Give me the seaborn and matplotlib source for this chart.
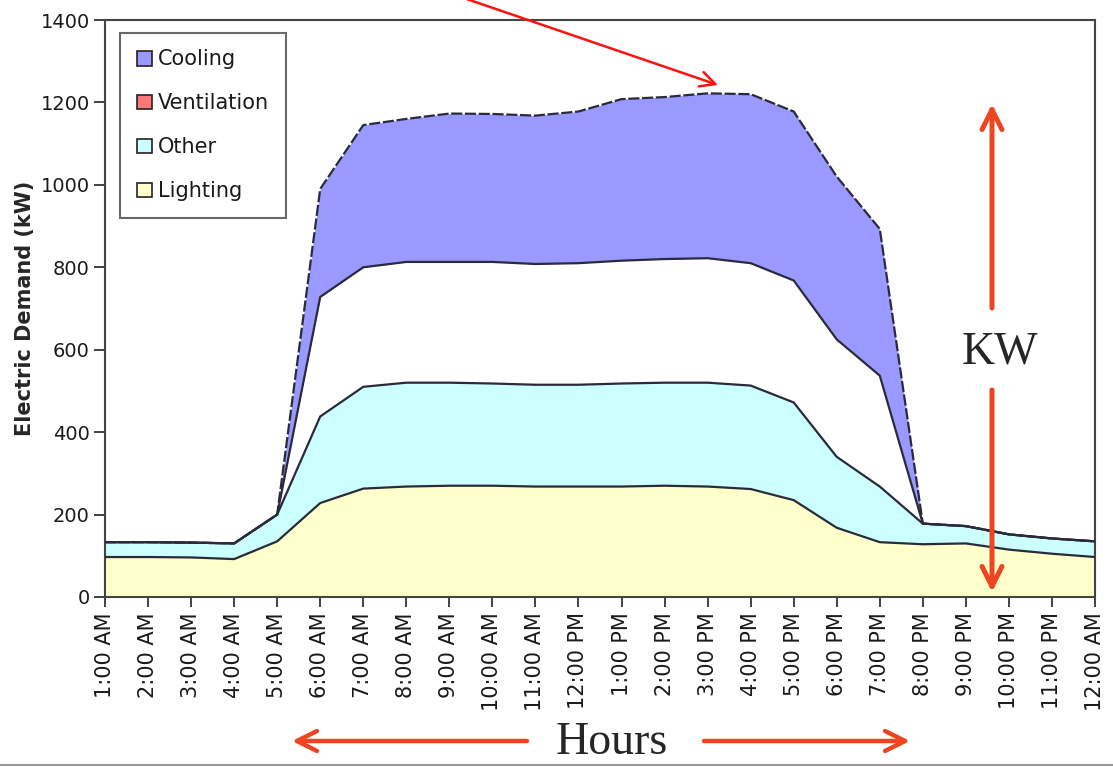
import matplotlib
matplotlib.use("Agg")
from matplotlib import pyplot as plt
from matplotlib.patches import Patch
import numpy as np
import pandas as pd
import seaborn as sns

hours = ["1:00 AM", "2:00 AM", "3:00 AM", "4:00 AM", "5:00 AM", "6:00 AM",
         "7:00 AM", "8:00 AM", "9:00 AM", "10:00 AM", "11:00 AM", "12:00 PM",
         "1:00 PM", "2:00 PM", "3:00 PM", "4:00 PM", "5:00 PM", "6:00 PM",
         "7:00 PM", "8:00 PM", "9:00 PM", "10:00 PM", "11:00 PM", "12:00 AM"]

# kW per end use, stacked bottom to top
lighting = [97, 97, 96, 92, 135, 228, 263, 268, 270, 270, 268, 268,
            268, 270, 268, 262, 235, 168, 133, 128, 130, 115, 105, 97]
other = [36, 36, 36, 38, 65, 210, 247, 252, 250, 248, 247, 247,
         250, 250, 252, 251, 237, 172, 135, 50, 42, 37, 37, 38]
ventilation = [0, 0, 0, 0, 0, 290, 290, 293, 293, 295, 293, 295,
               298, 300, 302, 297, 296, 285, 269, 0, 0, 0, 0, 0]
cooling = [0, 0, 0, 0, 0, 262, 345, 347, 360, 359, 360, 368,
           392, 393, 400, 410, 410, 395, 356, 0, 0, 0, 0, 0]

series = ["Lighting", "Other", "Ventilation", "Cooling"]
fill_colors = {"Lighting": "#FFFFCC", "Other": "#CCFFFF",
               "Ventilation": "#FFFFFF", "Cooling": "#9999FF"}
legend_colors = {"Lighting": "#FFFFCC", "Other": "#CCFFFF",
                 "Ventilation": "#FF7777", "Cooling": "#9999FF"}

df = pd.DataFrame({"Lighting": lighting, "Other": other,
                   "Ventilation": ventilation, "Cooling": cooling})
df["x"] = np.arange(len(hours))
tops = df[series].cumsum(axis=1)

sns.set_theme(style="white")
plt.rcParams["font.family"] = ["DejaVu Sans"]

fig = plt.figure(figsize=(11.13, 7.67), dpi=100)
ax = fig.add_axes([105 / 1113, 1 - 597 / 767, 990 / 1113, 577 / 767])

base = np.zeros(len(hours))
for s in series:
    top = tops[s].values
    ax.fill_between(df["x"], base, top, color=fill_colors[s], linewidth=0, zorder=1)
    base = top

line_df = tops.copy()
line_df["x"] = df["x"]
for s in ["Lighting", "Other", "Ventilation"]:
    sns.lineplot(data=line_df, x="x", y=s, ax=ax, color="#2a2a3a", linewidth=1.6, zorder=3)
sns.lineplot(data=line_df, x="x", y="Cooling", ax=ax, color="#2a2a3a", linewidth=1.6,
             linestyle=(0, (5, 1.2)), zorder=3)

ax.set_xlim(0, len(hours) - 1)
ax.set_ylim(0, 1400)
ax.set_xticks(df["x"])
ax.set_xticklabels(hours, rotation=90, fontsize=15, color="#1a1a1a")
ax.set_yticks(range(0, 1401, 200))
ax.tick_params(axis="y", labelsize=14, labelcolor="#1a1a1a", left=True, length=8,
               width=1.3, color="#333333", pad=3)
ax.tick_params(axis="x", bottom=True, length=7, width=1.3, color="#333333", pad=4)
ax.set_xlabel("")
ax.set_ylabel("Electric Demand (kW)", fontsize=15, fontweight="bold", labelpad=4)
for sp in ax.spines.values():
    sp.set_color("#444444")
    sp.set_linewidth(1.5)

handles = [Patch(facecolor=legend_colors[s], edgecolor="#222222", linewidth=1.2, label=s)
           for s in ["Cooling", "Ventilation", "Other", "Lighting"]]
leg = ax.legend(handles=handles, loc="upper left", bbox_to_anchor=(0.015, 0.978),
                fontsize=15, frameon=True, fancybox=False, handlelength=0.72,
                handleheight=0.72, handletextpad=0.3, labelspacing=1.15,
                borderpad=0.8, borderaxespad=0)
leg.get_frame().set_edgecolor("#444444")
leg.get_frame().set_linewidth(1.5)
for t in leg.get_texts():
    t.set_color("#1a1a1a")

# annotations drawn over the chart
orange = "#EE4422"
H = 767
def arrow(x0, y0, x1, y1, color, lw, head=12):
    ax.annotate("", xy=(x1, H - y1), xytext=(x0, H - y0),
                xycoords="figure pixels", textcoords="figure pixels",
                arrowprops=dict(arrowstyle=f"->,head_length={head / 10},head_width={head / 20}",
                                color=color, lw=lw, shrinkA=0, shrinkB=0),
                annotation_clip=False, zorder=10)

arrow(455, -5, 718, 85, "#FF1111", 1.8, head=9)
arrow(992, 308, 992, 104, orange, 3.6)
arrow(992, 390, 992, 592, orange, 3.6)
arrow(527, 741, 292, 741, orange, 3.2)
arrow(704, 741, 910, 741, orange, 3.2)

fig.text(1000 / 1113, 1 - 352 / H, "KW", fontsize=33, family="Liberation Serif",
         ha="center", va="center")
fig.text(612 / 1113, 1 - 764 / H, "Hours", fontsize=33, family="Liberation Serif",
         ha="center", va="bottom")
fig.add_artist(plt.Line2D([0, 1], [1 - 765 / H, 1 - 765 / H], color="#999999", lw=1.5))

fig.savefig("out.png", dpi=100)
